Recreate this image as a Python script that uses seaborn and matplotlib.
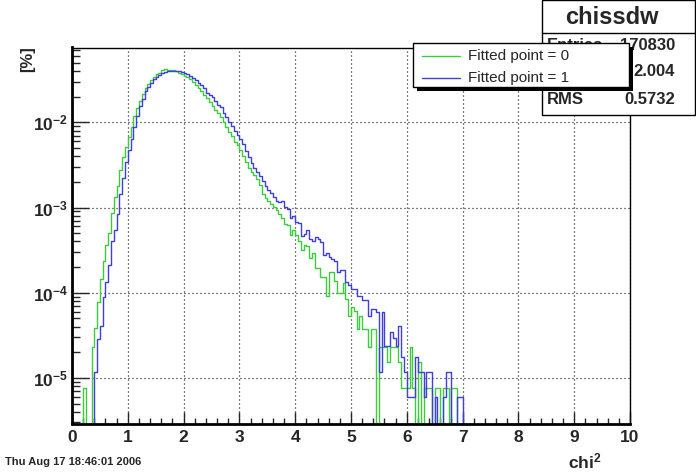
import numpy as np
import pandas as pd
import seaborn as sns
import matplotlib
matplotlib.use("Agg")
import matplotlib.pyplot as plt
from matplotlib.patches import Rectangle
from matplotlib.lines import Line2D
from matplotlib.ticker import FixedLocator, FuncFormatter, MultipleLocator, LogLocator, NullFormatter

# ---------------- data (fraction per bin, 200 bins of width 0.05 on [0,10]) ----------------
bin_lo = 0.0
bin_hi = 10.0
n_bins = 200

green_vals = [
    0, 0, 0, 0, 7.6e-6, 0, 0, 2.3e-5, 3.9e-5, 7.7e-5,
    1.43e-4, 2.38e-4, 3.6e-4, 5.0e-4, 8.6e-4, 1.34e-3, 1.79e-3, 2.75e-3, 3.9e-3, 5.1e-3,
    6.8e-3, 8.9e-3, 1.19e-2, 1.47e-2, 1.77e-2, 2.17e-2, 2.55e-2, 2.83e-2, 3.13e-2, 3.43e-2,
    3.64e-2, 3.84e-2, 4.08e-2, 4.17e-2, 4.13e-2, 4.09e-2, 4.09e-2, 3.99e-2, 3.84e-2, 3.70e-2,
    3.50e-2, 3.38e-2, 3.2e-2, 3.0e-2, 2.76e-2, 2.55e-2, 2.32e-2, 2.12e-2, 1.94e-2, 1.72e-2,
    1.56e-2, 1.39e-2, 1.27e-2, 1.14e-2, 1.0e-2, 8.9e-3, 7.6e-3, 7.0e-3, 5.9e-3, 5.4e-3,
    4.7e-3, 4.0e-3, 3.45e-3, 2.9e-3, 2.6e-3, 2.4e-3, 2.15e-3, 1.85e-3, 1.45e-3, 1.3e-3,
    1.2e-3, 1.09e-3, 1.02e-3, 9.3e-4, 8.5e-4, 7.5e-4, 6.4e-4, 6.2e-4, 4.8e-4, 5.5e-4,
    4.75e-4, 4.0e-4, 3.2e-4, 3.6e-4, 3.5e-4, 2.55e-4, 2.95e-4, 1.95e-4, 1.95e-4, 1.52e-4,
    1.52e-4, 9.1e-5, 1.75e-4, 1.75e-4, 1.37e-4, 9.9e-5, 9.9e-5, 1.29e-4, 8.4e-5, 5.3e-5,
    6.84e-5, 6.08e-5, 3.8e-5, 5.32e-5, 3.8e-5, 3.8e-5, 2.28e-5, 3.8e-5, 3.8e-5, 0,
    2.28e-5, 2.28e-5, 2.28e-5, 1.52e-5, 2.28e-5, 2.28e-5, 2.28e-5, 1.52e-5, 7.6e-6, 7.6e-6,
    7.6e-6, 2.28e-5, 7.6e-6, 0, 1.52e-5, 0, 7.6e-6, 7.6e-6, 7.6e-6, 0,
    7.6e-6, 7.6e-6, 0, 7.6e-6, 7.6e-6, 0, 7.6e-6, 7.6e-6, 0, 0,
]

blue_vals = [
    0, 0, 0, 0, 0, 0, 0, 0, 1.17e-5, 2.9e-5,
    4.1e-5, 9.0e-5, 1.35e-4, 2.1e-4, 4.0e-4, 5.4e-4, 8.5e-4, 1.45e-3, 2.25e-3, 3.4e-3,
    4.7e-3, 6.4e-3, 8.8e-3, 1.19e-2, 1.55e-2, 1.9e-2, 2.3e-2, 2.58e-2, 2.9e-2, 3.18e-2,
    3.4e-2, 3.61e-2, 3.79e-2, 3.88e-2, 3.97e-2, 4.03e-2, 4.03e-2, 4.03e-2, 3.98e-2, 3.86e-2,
    3.74e-2, 3.64e-2, 3.48e-2, 3.3e-2, 3.1e-2, 2.9e-2, 2.75e-2, 2.52e-2, 2.23e-2, 2.12e-2,
    1.96e-2, 1.8e-2, 1.6e-2, 1.5e-2, 1.28e-2, 1.15e-2, 1.02e-2, 9.1e-3, 8.0e-3, 7.1e-3,
    6.3e-3, 5.6e-3, 4.6e-3, 3.9e-3, 3.3e-3, 2.9e-3, 2.62e-3, 2.35e-3, 2.07e-3, 1.79e-3,
    1.6e-3, 1.5e-3, 1.32e-3, 1.2e-3, 1.15e-3, 1.2e-3, 1.02e-3, 9.5e-4, 7.5e-4, 7.9e-4,
    6.8e-4, 6.5e-4, 4.6e-4, 4.9e-4, 5.4e-4, 4.25e-4, 4.1e-4, 4.45e-4, 4.25e-4, 3.95e-4,
    2.8e-4, 2.95e-4, 2.6e-4, 2.46e-4, 2.38e-4, 1.77e-4, 1.85e-4, 1.85e-4, 1.35e-4, 1.23e-4,
    1.12e-4, 1.12e-4, 9.1e-5, 9.1e-5, 8.2e-5, 8.2e-5, 5.3e-5, 6.4e-5, 6.4e-5, 5.9e-5,
    1.17e-5, 5.9e-5, 2.34e-5, 2.34e-5, 3.5e-5, 2.93e-5, 2.34e-5, 4.1e-5, 1.76e-5, 1.17e-5,
    5.9e-6, 5.9e-6, 5.9e-6, 1.76e-5, 1.17e-5, 1.17e-5, 5.9e-6, 1.17e-5, 1.17e-5, 0,
    5.9e-6, 0, 0, 5.9e-6, 1.17e-5, 1.17e-5, 0, 0, 5.9e-6, 5.9e-6,
]

labels = ["Fitted point = 0", "Fitted point = 1"]
colors = ["#3ccc3c", "#4040d8"]
x_ticks = [0, 1, 2, 3, 4, 5, 6, 7, 8, 9, 10]
y_ticks = [1e-5, 1e-4, 1e-3, 1e-2]
y_lim = (2.92e-6, 7.55e-2)

stats_title = "chissdw"
stats_rows = [("Entries", "170830"), ("Mean", "2.004"), ("RMS", "0.5732")]
date_text = "Thu Aug 17 18:46:01 2006"

# pad to the full 200 bins (empty bins above x=7)
green_full = np.array(green_vals + [0.0] * (n_bins - len(green_vals)), dtype=float)
blue_full = np.array(blue_vals + [0.0] * (n_bins - len(blue_vals)), dtype=float)
bin_width = (bin_hi - bin_lo) / n_bins
centers = bin_lo + bin_width * (np.arange(n_bins) + 0.5)
df = pd.DataFrame({"x": np.concatenate([centers, centers]),
                   "w": np.concatenate([green_full, blue_full]),
                   "series": [labels[0]] * n_bins + [labels[1]] * n_bins})

# ---------------- style ----------------
sns.set_style("white")
plt.rcParams["font.family"] = ["Liberation Sans", "DejaVu Sans"]
plt.rcParams["mathtext.fontset"] = "custom"
plt.rcParams["mathtext.rm"] = "Liberation Sans"
plt.rcParams["mathtext.bf"] = "Liberation Sans:bold"
plt.rcParams["mathtext.it"] = "Liberation Sans:italic"

W, H = 696, 472
fig = plt.figure(figsize=(W / 100, H / 100), dpi=100)
fig.patch.set_facecolor("white")
ax = fig.add_axes([72 / W, 1 - 423.5 / H, (630 - 72) / W, (423.5 - 47.5) / H])
ax.set_facecolor("white")

for lab, col in zip(labels, colors):
    sub = df[df["series"] == lab]
    sns.histplot(data=sub, x="x", weights="w", binwidth=bin_width,
                 binrange=(bin_lo, bin_hi), element="step",
                 fill=False, color=col, linewidth=1.0, ax=ax)

ax.set_yscale("log")
ax.set_xlim(bin_lo, bin_hi)
ax.set_ylim(*y_lim)
ax.set_xlabel("")
ax.set_ylabel("")

ax.xaxis.set_major_locator(FixedLocator(x_ticks))
ax.xaxis.set_minor_locator(MultipleLocator(0.2))
ax.yaxis.set_major_locator(FixedLocator(y_ticks))
ax.yaxis.set_minor_locator(LogLocator(base=10, subs=np.arange(2, 10), numticks=20))
ax.yaxis.set_minor_formatter(NullFormatter())
ax.xaxis.set_major_formatter(FuncFormatter(lambda v, p: f"{int(round(v))}"))
ax.yaxis.set_major_formatter(FuncFormatter(
    lambda v, p: r"$\mathbf{10^{%d}}$" % int(round(np.log10(v)))))

ax.tick_params(axis="x", which="major", direction="in", length=9, width=1,
               labelsize=12.5, pad=5, top=False, bottom=True)
ax.tick_params(axis="x", which="minor", direction="in", length=4.5, width=1,
               top=False, bottom=True)
ax.tick_params(axis="y", which="major", direction="in", length=12, width=1,
               labelsize=12.5, pad=3, right=False, left=True)
ax.tick_params(axis="y", which="minor", direction="in", length=6, width=1,
               right=False, left=True)
for t in ax.get_xticklabels():
    t.set_fontweight("bold")

ax.grid(True, which="major", color="black", linestyle=(0, (0.8, 2.4)), linewidth=0.9)
for side in ["left", "bottom"]:
    ax.spines[side].set_linewidth(2.0)
for side in ["top", "right"]:
    ax.spines[side].set_linewidth(1.0)
for s in ax.spines.values():
    s.set_color("black")

# ---------------- texts ----------------
fig.text(28 / W, 1 - 46 / H, "[%]", rotation=90, ha="center", va="top",
         fontsize=12, fontweight="bold")
fig.text(602 / W, 1 - 461 / H, r"$\mathbf{chi^{2}}$", ha="right", va="center",
         fontsize=12.5)
fig.text(5 / W, 1 - 462 / H, date_text, ha="left", va="center",
         fontsize=8, fontweight="bold")

# ---------------- stats box ----------------
fig.patches.append(Rectangle((542 / W, 1 - 115 / H), (695 - 542) / W, 115 / H,
                             transform=fig.transFigure, facecolor="white",
                             edgecolor="black", linewidth=1.0, zorder=5))
fig.lines.append(Line2D([542 / W, 695 / W], [1 - 33 / H, 1 - 33 / H],
                        transform=fig.transFigure, color="black", linewidth=1.0, zorder=6))
fig.text(612 / W, 1 - 17 / H, stats_title, ha="center", va="center",
         fontsize=17, fontweight="bold", zorder=7)
for (name, val), yy in zip(stats_rows, [45, 72, 100]):
    fig.text(547 / W, 1 - yy / H, name, ha="left", va="center",
             fontsize=12, fontweight="bold", zorder=7)
    fig.text(675 / W, 1 - yy / H, val, ha="right", va="center",
             fontsize=12, fontweight="bold", zorder=7)

# ---------------- legend (drawn over the stats box, as in the original) ----------------
lx0, lx1, ly0, ly1 = 413, 629, 43, 87
sh = 4
fig.patches.append(Rectangle(((lx0 + sh) / W, 1 - (ly1 + sh) / H), (lx1 - lx0) / W,
                             (ly1 - ly0) / H, transform=fig.transFigure,
                             facecolor="black", edgecolor="black", linewidth=0, zorder=10))
fig.patches.append(Rectangle((lx0 / W, 1 - ly1 / H), (lx1 - lx0) / W, (ly1 - ly0) / H,
                             transform=fig.transFigure, facecolor="white",
                             edgecolor="black", linewidth=1.0, zorder=11))
for lab, col, yy in zip(labels, colors, [56, 78]):
    fig.lines.append(Line2D([421.7 / W, 460 / W], [1 - yy / H, 1 - yy / H],
                            transform=fig.transFigure, color=col, linewidth=1.0, zorder=12))
    fig.text(468 / W, 1 - yy / H, lab, ha="left", va="center", fontsize=11, zorder=12)

fig.savefig("out.png", dpi=100)
